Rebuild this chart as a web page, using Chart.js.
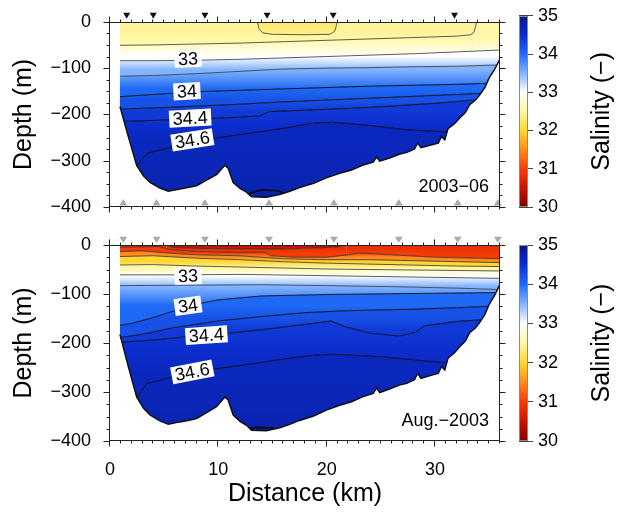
<!DOCTYPE html>
<html>
<head>
<meta charset="utf-8">
<script src="https://cdn.jsdelivr.net/npm/chart.js@4.4.1/dist/chart.umd.min.js"></script>
<style>
  html, body { margin: 0; padding: 0; background: #fff; }
  #wrap { position: relative; width: 638px; height: 512px; overflow: hidden; }
  #wrap canvas { position: absolute; left: 0; top: 0; }
</style>
</head>
<body>
<div id="wrap">
  <canvas id="pTop" width="638" height="512"></canvas>
  <canvas id="pBot" width="638" height="512"></canvas>
  <canvas id="cTop" width="638" height="512"></canvas>
  <canvas id="cBot" width="638" height="512"></canvas>
</div>
<script>
// ====================== DATA ======================
const distTicks  = [0, 10, 20, 30];
const depthTicks = [-400, -300, -200, -100, 0];
const salTicks   = [30, 31, 32, 33, 34, 35];
const salRange   = [30, 35];

// station positions (km)
const junStations = [1.54, 3.99, 8.76, 14.5, 20.6, 31.8];
const augStations = [1.23, 4.30, 8.76, 14.68, 20.67, 26.66, 32.1, 35.8];

// western edge of the section (km) and sea floor [km, depth m]
const sectionStartKm = 0.92;
const bathymetry = [[0.92,-183],[1.69,-248],[2.46,-310],[3.1,-333],[3.69,-347],[4.61,-359],[5.38,-366],
  [6.45,-361],[7.2,-358],[7.99,-354],[9.0,-341],[9.83,-330],[10.3,-318],[10.6,-310],[10.9,-316],[11.37,-347],[12.0,-360],
  [12.6,-368],[13.06,-378],[14.44,-379],[15.67,-373],[16.6,-366],[17.5,-358],[18.8,-349],[19.97,-337],[21.2,-327],
  [22.3,-320],[23.3,-310],[24.3,-303],[24.6,-292],[24.9,-301],[25.8,-294],[26.7,-286],[27.4,-282],[28.1,-275],[28.4,-262],
  [28.7,-272],[29.8,-265],[30.3,-262],[30.6,-248],[30.9,-255],[31.2,-231],[31.8,-220],[32.3,-207],[32.8,-196],
  [33.2,-179],[33.7,-170],[34.1,-159],[34.6,-142],[35.0,-121],[35.5,-103],[36,-80]];

// ---- June 2003 isohalines [km, depth m] ----
const jun_s3235 = [[0,0],[13.6,0],[13.75,-15],[14.1,-24],[15,-27],[18,-28],[20.3,-27],[20.75,-20],[20.9,-8],[21.0,0],[36,0]];
const jun_s325  = [[0,-51],[4,-50],[8,-48],[12,-46],[16,-43],[20,-40],[24,-37],[28,-34],[32,-31],[33.3,-28],[33.6,-22],[33.75,-10],[33.85,0],[36,0]];
const jun_s33   = [[0,-84],[4,-84],[8,-83],[12,-81],[16,-78],[20,-75],[24,-72],[28,-69],[32,-65],[36,-61]];
const jun_s335  = [[0,-118],[4,-116],[8,-112],[12,-107],[16,-102],[20,-100],[24,-99],[28,-97],[32,-96],[36,-93]];
const jun_s34   = [[0,-163],[4,-157],[8,-151],[12,-148],[16,-145],[20,-142],[24,-139],[28,-137],[32,-135],[36,-132]];
const jun_s342  = [[0,-189],[4,-186],[8,-182],[12,-178],[16,-173],[20,-169],[24,-165],[28,-161],[32,-157],[36,-153]];
const jun_s344  = [[0,-216],[4,-213],[8,-210],[12,-206],[13.8,-203],[14.7,-194],[18,-191],[22,-187],[26,-182],[30,-176],[33,-170],[36,-166]];
const jun_s346  = [[0,-330],[2.46,-312],[3.4,-284],[5.8,-270],[7.6,-257],[12,-244],[16,-230],[18.7,-219],[20.6,-217],[24,-224],[27.3,-233],[31,-238],[36,-240]];
const jun_s347  = [[0,-420],[12.5,-420],[12.9,-370],[14,-363],[15.5,-365],[16.5,-374],[17,-420],[36,-420]];
const jun_floor = [[0,-420],[36,-420]];
const junLevels  = [32.35, 32.5, 33, 33.5, 34, 34.2, 34.4, 34.6, 34.7, 34.8];
const junBandTop = [32.22, 32.44, 32.5, 33, 33.5, 34, 34.2, 34.4, 34.6, 34.75];
const junLabels  = [
  {text:'33',   km:7.2, d:-80,  rot:-2},
  {text:'34',   km:7.1, d:-150, rot:-3},
  {text:'34.4', km:7.4, d:-208, rot:-3},
  {text:'34.6', km:7.6, d:-255, rot:-9}
];

// ---- August 2003 isohalines [km, depth m] ----
const aug_s306 = [[0,0],[5.2,0],[5.8,-5],[8,-7],[12,-8],[16,-8],[19,-6],[21,-4],[21.8,0],[36,0]];
const aug_s31  = [[0,-5],[3,-4],[4.5,-3],[5.5,-9],[8,-13],[12,-15],[14.3,-14],[14.8,-22],[17,-25],[20,-25],[22,-20],[23,-16],[26,-20],[30,-25],[36,-28]];
const aug_s315 = [[0,-14],[3,-12],[5,-16],[8,-20],[12,-22],[16,-28],[20,-30],[24,-30],[28,-32],[32,-34],[36,-36]];
const aug_s32  = [[0,-24],[4,-22],[8,-27],[12,-30],[16,-34],[20,-37],[24,-39],[28,-41],[32,-43],[36,-44]];
const aug_s325 = [[0,-41],[4,-40],[8,-43],[12,-45],[16,-47],[20,-49],[24,-50],[28,-51],[32,-52],[36,-53]];
const aug_s33  = [[0,-61],[6,-61],[12,-60],[18,-62],[24,-64],[30,-66],[36,-68]];
const aug_s335 = [[0,-83],[8,-82],[14,-81],[20,-83],[26,-85],[32,-88],[36,-91]];
const aug_s34  = [[0,-167],[2,-160],[4,-148],[6,-134],[7.2,-124],[10,-112],[14,-104],[20,-101],[28,-99],[36,-97]];
const aug_s342 = [[0,-192],[3,-182],[6,-168],[10,-155],[14,-146],[18,-138],[22,-134],[28,-131],[32,-128],[36,-124]];
const aug_s344 = [[0,-200],[4,-194],[7.7,-186],[11,-180],[14.4,-172],[18,-162],[20.4,-155],[21.6,-166],[24,-180],[26.7,-186],[28.2,-178],[29,-165],[32,-156],[36,-150]];
const aug_s346 = [[0,-330],[2.46,-312],[3.4,-283],[5.8,-269],[7.6,-259],[12,-246],[16,-233],[18.7,-225],[20.6,-223],[25,-228],[30.7,-240],[36,-242]];
const aug_s347 = [[0,-420],[12.2,-420],[12.7,-376],[13.5,-372],[15,-373],[15.5,-420],[36,-420]];
const aug_floor = [[0,-420],[36,-420]];
const augLevels  = [30.6, 31, 31.5, 32, 32.5, 33, 33.5, 34, 34.2, 34.4, 34.6, 34.7, 35];
const augBandTop = [30.3, 30.85, 31, 31.5, 32, 32.5, 33, 33.5, 34, 34.2, 34.4, 34.6, 34.95];
const augLabels  = [
  {text:'33',   km:7.2, d:-63,  rot:-2},
  {text:'34',   km:7.2, d:-124, rot:-8},
  {text:'34.4', km:8.9, d:-184, rot:-4},
  {text:'34.6', km:7.6, d:-259, rot:-11}
];

// ====================== STYLE / HELPERS ======================
const FONT = '"Liberation Sans", Arial, Helvetica, sans-serif';
Chart.defaults.font.family = FONT;
Chart.defaults.color = '#000';
Chart.defaults.animation = false;

const cmapS   = [30, 30.5, 31, 31.5, 32, 32.5, 33, 33.5, 34, 34.5, 35];
const cmapRGB = [[128,0,0],[200,20,0],[245,60,5],[255,140,30],[255,215,50],[255,248,168],[255,255,255],[130,180,255],[30,105,245],[12,45,205],[8,22,130]];
function salColor(s) {
  if (s <= cmapS[0]) s = cmapS[0];
  if (s >= cmapS[cmapS.length-1]) s = cmapS[cmapS.length-1] - 1e-9;
  let i = 0;
  while (s > cmapS[i+1]) i++;
  const t = (s - cmapS[i]) / (cmapS[i+1] - cmapS[i]);
  const a = cmapRGB[i], b = cmapRGB[i+1];
  return 'rgb(' + [0,1,2].map(k => Math.round(a[k] + (b[k]-a[k])*t)).join(',') + ')';
}
const toXY = pts => pts.map(p => ({x: p[0], y: p[1]}));
function meanDepth(pts) {
  const ns = pts.filter(p => p[1] < 0 && p[1] > -400);
  if (!ns.length) return pts[0][1] < -399 ? -400 : 0;
  return ns.reduce((a, p) => a + p[1], 0) / ns.length;
}
function bandFill(ctx, upper, lower, sTop, sBot) {
  const chart = ctx.chart, ys = chart.scales && chart.scales.y;
  if (!chart.chartArea || !ys) return salColor((sTop + sBot) / 2);
  let y0 = ys.getPixelForValue(meanDepth(upper));
  let y1 = ys.getPixelForValue(meanDepth(lower));
  if (y1 - y0 < 2) y1 = y0 + 2;
  const g = chart.ctx.createLinearGradient(0, y0, 0, y1);
  for (let k = 0; k <= 8; k++) { const t = k / 8; g.addColorStop(t, salColor(sTop + (sBot - sTop) * t)); }
  return g;
}

const labelPlugin = {
  id: 'clabels',
  afterDatasetsDraw(chart, args, opts) {
    const {ctx, scales: {x, y}} = chart;
    ctx.save();
    ctx.font = '18px ' + FONT;
    ctx.textAlign = 'center';
    ctx.textBaseline = 'middle';
    for (const L of (opts.labels || [])) {
      const px = x.getPixelForValue(L.km), py = y.getPixelForValue(L.d);
      ctx.save();
      ctx.translate(px, py);
      ctx.rotate(L.rot * Math.PI / 180);
      const w = ctx.measureText(L.text).width + 7;
      ctx.fillStyle = '#fff';
      ctx.fillRect(-w / 2, -8.5, w, 17);
      ctx.fillStyle = '#000';
      ctx.fillText(L.text, 0, 1);
      ctx.restore();
    }
    // station markers (may sit outside the plot area)
    for (const m of (opts.markers || [])) {
      ctx.fillStyle = m.color;
      for (const k of m.km) {
        const px = x.getPixelForValue(k), py = y.getPixelForValue(m.depth);
        const hw = m.w / 2, hh = m.h / 2;
        ctx.beginPath();
        if (m.down) {
          ctx.moveTo(px - hw, py - hh); ctx.lineTo(px + hw, py - hh); ctx.lineTo(px, py + hh);
        } else {
          ctx.moveTo(px - hw, py + hh); ctx.lineTo(px + hw, py + hh); ctx.lineTo(px, py - hh);
        }
        ctx.closePath();
        ctx.fill();
      }
    }
    ctx.restore();
  }
};

const framePlugin = {
  id: 'frame',
  afterDraw(chart, args, opts) {
    const {ctx, chartArea: a, scales: {x, y}} = chart;
    ctx.save();
    ctx.strokeStyle = '#222';
    ctx.lineWidth = 1;
    const L = Math.round(a.left) - 0.5, R = Math.round(a.right) - 0.5;
    const T = Math.round(a.top) + 0.5, B = Math.round(a.bottom) - 0.5;
    ctx.strokeRect(L, T, R - L, B - T);
    ctx.beginPath();
    for (let k = 0; k <= 36; k += 1) {
      const px = Math.round(x.getPixelForValue(k)) - 0.5;
      const len = (k % 10 === 0) ? 6 : 3;
      ctx.moveTo(px, B); ctx.lineTo(px, B + len);
      ctx.moveTo(px, T); ctx.lineTo(px, T - len);
    }
    for (let d = 0; d >= -400; d -= 25) {
      const py = Math.round(y.getPixelForValue(d)) + 0.5;
      const len = (d % 100 === 0) ? 6 : 3;
      ctx.moveTo(L, py); ctx.lineTo(L - len, py);
      ctx.moveTo(R, py); ctx.lineTo(R + len, py);
    }
    ctx.stroke();
    if (opts.tag) {
      ctx.font = '18px ' + FONT;
      ctx.fillStyle = '#000';
      ctx.textAlign = 'right';
      ctx.textBaseline = 'alphabetic';
      ctx.fillText(opts.tag, a.right - 11, a.bottom - 15);
    }
    ctx.restore();
  }
};

function makePanel(id, cfg) {
  const surface = [[0,0],[36,0]];
  const datasets = [];
  // sea-floor line (on top)
  datasets.push({ data: toXY(bathymetry), borderColor: '#111', borderWidth: 1.5, pointRadius: 0, fill: false });
  // white mask: land west of the section and below the sea floor (the two pieces overlap, no seam)
  datasets.push({ data: toXY([[0,0],[sectionStartKm,0]]), borderWidth: 0, pointRadius: 0, fill: 'start', backgroundColor: '#fff' });
  datasets.push({ data: toXY([[0, bathymetry[0][1]]].concat(bathymetry)), borderWidth: 0, pointRadius: 0, fill: 'start', backgroundColor: '#fff' });
  // sea surface
  datasets.push({ data: toXY(surface), borderWidth: 0, pointRadius: 0, fill: false });
  // isohalines with colour bands between consecutive ones
  cfg.contours.forEach((pts, i) => {
    const upper = i === 0 ? surface : cfg.contours[i - 1];
    const isFloor = i === cfg.contours.length - 1;
    datasets.push({
      data: toXY(pts), pointRadius: 0,
      borderWidth: isFloor ? 0 : (cfg.levels[i] >= 34.7 ? 1.6 : 1),
      borderColor: cfg.levels[i] < 34 ? 'rgba(40,40,40,0.75)' : 'rgba(0,0,0,0.85)',
      fill: '-1',
      backgroundColor: ctx => bandFill(ctx, upper, pts, cfg.bandTop[i], cfg.levels[i]),
      segment: { borderColor: c => (pts[c.p0DataIndex][1] === 0 && pts[c.p1DataIndex][1] === 0) ? 'rgba(0,0,0,0)' : undefined }
    });
  });
  const xScale = {
    type: 'linear', min: 0, max: 36, display: cfg.showX,
    afterBuildTicks: s => { s.ticks = distTicks.map(v => ({value: v})); },
    grid: {display: false}, border: {display: false},
    ticks: {font: {size: 18}, padding: 10, maxRotation: 0, autoSkip: false},
    title: {display: true, text: 'Distance (km)', font: {size: 25}, padding: {top: 0, bottom: 3}}
  };
  if (cfg.showX) xScale.afterFit = s => { s.height = 71; };
  return new Chart(document.getElementById(id), {
    type: 'line',
    data: {datasets},
    options: {
      responsive: false, animation: false, events: [],
      layout: {padding: cfg.padding},
      scales: {
        x: xScale,
        y: {
          type: 'linear', min: -400, max: 0,
          afterBuildTicks: s => { s.ticks = depthTicks.map(v => ({value: v})); },
          afterFit: s => { s.width = 110; },
          grid: {display: false}, border: {display: false},
          ticks: {font: {size: 18}, padding: 11, autoSkip: false, callback: v => String(v).replace('-', '\u2212')},
          title: {display: true, text: 'Depth (m)', font: {size: 25}, padding: {top: 9, bottom: 0}}
        }
      },
      plugins: {legend: {display: false}, tooltip: {enabled: false},
        clabels: {labels: cfg.labels, markers: cfg.markers}, frame: {tag: cfg.tag}}
    },
    plugins: [labelPlugin, framePlugin]
  });
}

const cbarPlugin = {
  id: 'cbar',
  afterDraw(chart) {
    const {ctx, chartArea: a} = chart;
    ctx.save();
    ctx.strokeStyle = '#8a8a8a';
    ctx.lineWidth = 1;
    ctx.strokeRect(Math.round(a.left) + 0.5, Math.round(a.top) + 0.5, Math.round(a.right - a.left) - 1, Math.round(a.bottom - a.top) - 1);
    ctx.translate(602, (a.top + a.bottom) / 2);
    ctx.rotate(-Math.PI / 2);
    ctx.font = '25px ' + FONT;
    ctx.fillStyle = '#000';
    ctx.textAlign = 'center';
    ctx.textBaseline = 'middle';
    ctx.fillText('Salinity (\u2212)', 0, 0);
    ctx.restore();
  }
};

function makeColorbar(id, top, bottom) {
  return new Chart(document.getElementById(id), {
    type: 'bar',
    data: {labels: ['S'], datasets: [{
      data: [salRange],
      backgroundColor: ctx => {
        const ch = ctx.chart, ys = ch.scales && ch.scales.y;
        if (!ch.chartArea || !ys) return '#fff';
        const g = ch.ctx.createLinearGradient(0, ys.getPixelForValue(salRange[0]), 0, ys.getPixelForValue(salRange[1]));
        for (let k = 0; k <= 50; k++) {
          g.addColorStop(k / 50, salColor(salRange[0] + (salRange[1] - salRange[0]) * k / 50));
        }
        return g;
      },
      borderWidth: 0, barPercentage: 1, categoryPercentage: 1
    }]},
    options: {
      responsive: false, animation: false, events: [],
      layout: {padding: {left: 519, top: top, bottom: 512 - bottom, right: 0}},
      scales: {
        x: {display: false},
        y: {
          position: 'right', min: salRange[0], max: salRange[1], z: 1,
          afterBuildTicks: s => { s.ticks = salTicks.map(v => ({value: v})); },
          afterFit: s => { s.width = 110; },
          grid: {color: '#444', tickLength: 5, lineWidth: 1},
          border: {display: false},
          ticks: {font: {size: 18}, padding: 5, color: '#000', autoSkip: false}
        }
      },
      plugins: {legend: {display: false}, tooltip: {enabled: false}}
    },
    plugins: [cbarPlugin]
  });
}

makePanel('pTop', {
  padding: {left: 0, top: 13, right: 138, bottom: 305},
  showX: false,
  contours: [jun_s3235, jun_s325, jun_s33, jun_s335, jun_s34, jun_s342, jun_s344, jun_s346, jun_s347, jun_floor],
  levels: junLevels, bandTop: junBandTop, labels: junLabels, tag: '2003\u221206',
  markers: [
    {km: junStations, depth: 13, w: 7, h: 6, down: true, color: '#111'},
    {km: augStations, depth: -390, w: 8, h: 6.5, down: false, color: '#aaaaaa'}
  ]
});
makePanel('pBot', {
  padding: {left: 0, top: 245, right: 138, bottom: 0},
  showX: true,
  contours: [aug_s306, aug_s31, aug_s315, aug_s32, aug_s325, aug_s33, aug_s335, aug_s34, aug_s342, aug_s344, aug_s346, aug_s347, aug_floor],
  levels: augLevels, bandTop: augBandTop, labels: augLabels, tag: 'Aug.\u22122003',
  markers: [
    {km: augStations, depth: 10.5, w: 8, h: 6, down: true, color: '#aaaaaa'}
  ]
});
makeColorbar('cTop', 13, 207);
makeColorbar('cBot', 245, 441);
</script>
</body>
</html>
